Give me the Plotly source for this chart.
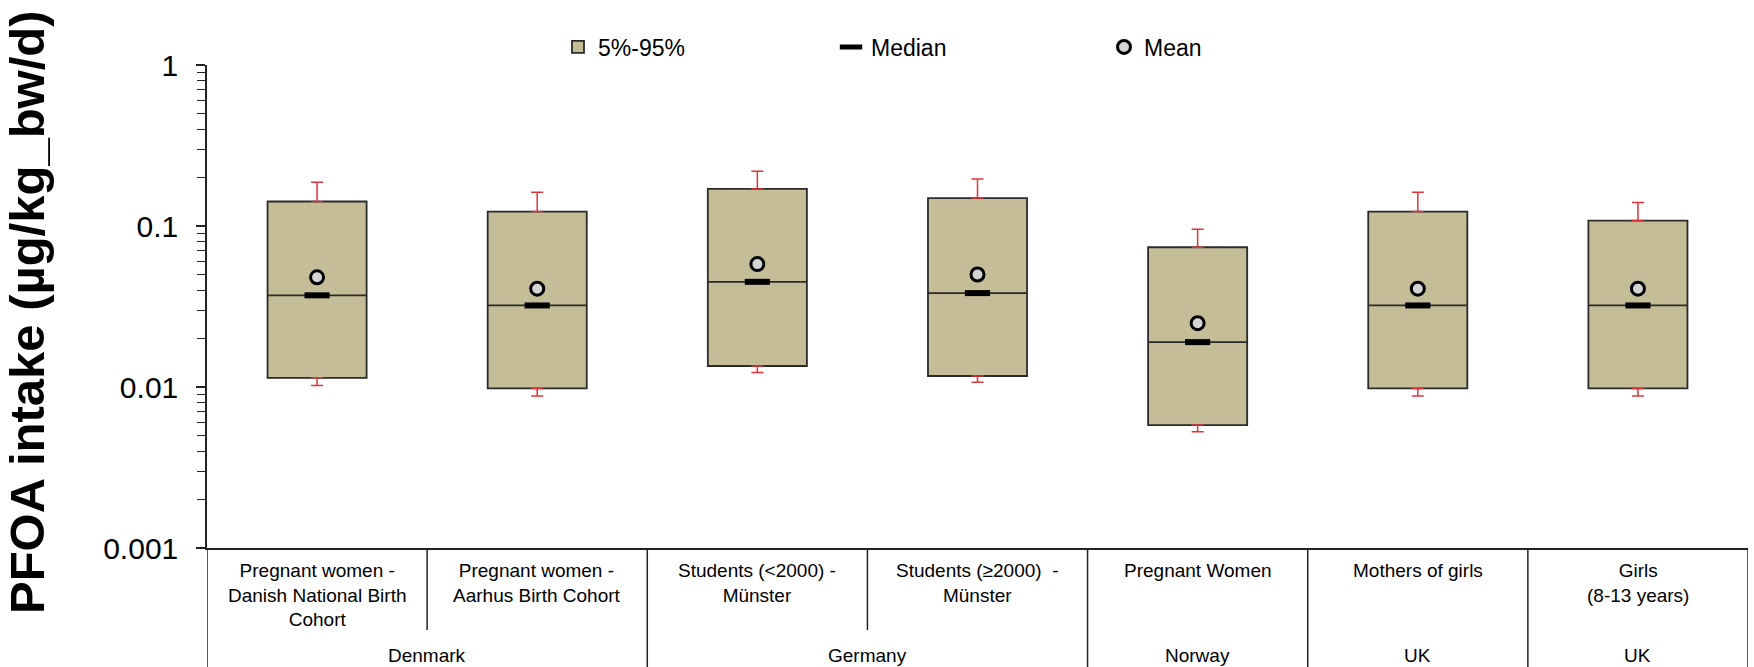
import plotly.graph_objects as go

# ---------------- data ----------------
subgroups = [
    "Pregnant women -<br>Danish National Birth<br>Cohort",
    "Pregnant women -<br>Aarhus Birth Cohort",
    "Students (<2000) -<br>Münster",
    "Students (≥2000)  -<br>Münster",
    "Pregnant Women",
    "Mothers of girls",
    "Girls<br>(8-13 years)",
]
countries = ["Denmark", "Germany", "Norway", "UK", "UK"]
country_sizes = [2, 2, 1, 1, 1]

p5 = [0.0114, 0.0098, 0.0135, 0.0117, 0.0058, 0.0098, 0.0098]
p95 = [0.142, 0.123, 0.170, 0.149, 0.0738, 0.123, 0.108]
median = [0.0371, 0.0321, 0.045, 0.0383, 0.019, 0.0321, 0.0321]
mean = [0.048, 0.0408, 0.058, 0.050, 0.0249, 0.0408, 0.0408]
whisk_hi = [0.187, 0.162, 0.219, 0.196, 0.0953, 0.162, 0.140]
whisk_lo = [0.0102, 0.0088, 0.0123, 0.0107, 0.00527, 0.0088, 0.0088]

ytick_vals = [0.001, 0.01, 0.1, 1]
ytick_text = ["0.001", "0.01", "0.1", "1"]

# ---------------- figure ----------------
W, H = 1754, 667
ML, MR, MT, MB = 207, 6, 65, 119
PW, PH = W - ML - MR, H - MT - MB
FONT = "Liberation Sans, Arial, sans-serif"
BOXFILL = "#C5BD98"
RED = "#E0343C"

def py(px):  # pixel y -> paper y
    return (H - MB - px) / PH

def pxx(px):  # pixel x -> paper x
    return (px - ML) / PW

fig = go.Figure()

fig.add_trace(go.Box(
    x=subgroups, q1=p5, q3=p95, median=median,
    lowerfence=p5, upperfence=p95,
    name="5%-95%", fillcolor=BOXFILL,
    line=dict(color="#2b2b2b", width=1.8),
    width=0.45, whiskerwidth=0, boxpoints=False, showlegend=True,
))

# whiskers (red)
fig.add_trace(go.Scatter(
    x=subgroups, y=p95, mode="markers",
    marker=dict(color="rgba(0,0,0,0)", size=1),
    error_y=dict(type="data", symmetric=False,
                 array=[h - q for h, q in zip(whisk_hi, p95)],
                 arrayminus=[0] * len(p95),
                 color=RED, thickness=1.5, width=6),
    showlegend=False, hoverinfo="skip",
))
fig.add_trace(go.Scatter(
    x=subgroups, y=p5, mode="markers",
    marker=dict(color="rgba(0,0,0,0)", size=1),
    error_y=dict(type="data", symmetric=False,
                 array=[0] * len(p5),
                 arrayminus=[q - l for q, l in zip(p5, whisk_lo)],
                 color=RED, thickness=1.5, width=6),
    showlegend=False, hoverinfo="skip",
))

fig.add_trace(go.Scatter(
    x=subgroups, y=median, mode="markers", name="Median",
    marker=dict(symbol="line-ew", size=18, color="black",
                line=dict(color="black", width=6)),
))
fig.add_trace(go.Scatter(
    x=subgroups, y=mean, mode="markers", name="Mean",
    marker=dict(symbol="circle", size=13, color="#d4d4d4",
                line=dict(color="black", width=3)),
))

# ---------------- category table ----------------
shapes = []
line_style = dict(color="#222", width=1.5)
y_bottom = py(H)
y_short = py(630)
group_edges = [0]
for s in country_sizes:
    group_edges.append(group_edges[-1] + s)
for k in range(len(subgroups) + 1):
    y1 = y_bottom if k in group_edges else y_short
    shapes.append(dict(type="line", xref="x", yref="paper",
                       x0=k - 0.5, x1=k - 0.5, y0=0, y1=y1,
                       line=line_style, layer="above"))

annotations = []
for i, lab in enumerate(subgroups):
    annotations.append(dict(xref="x", yref="paper", x=i, y=py(558),
                            text=lab, showarrow=False, yanchor="top",
                            xanchor="center", align="center",
                            font=dict(family=FONT, size=19, color="black")))
for g, name in enumerate(countries):
    c = (group_edges[g] + group_edges[g + 1] - 1) / 2
    annotations.append(dict(xref="x", yref="paper", x=c, y=py(655),
                            text=name, showarrow=False, yanchor="middle",
                            xanchor="center",
                            font=dict(family=FONT, size=19, color="black")))

# y-axis title
annotations.append(dict(xref="paper", yref="paper", x=pxx(27), y=py(312),
                        text="<b>PFOA intake (µg/kg_bw/d)</b>", textangle=-90,
                        showarrow=False, xanchor="center", yanchor="middle",
                        font=dict(family=FONT, size=49, color="black")))

minor_vals = [m * 10 ** e for e in (-3, -2, -1) for m in range(2, 10)]

fig.update_layout(
    width=W, height=H,
    margin=dict(l=ML, r=MR, t=MT, b=MB, pad=0),
    paper_bgcolor="white", plot_bgcolor="white",
    font=dict(family=FONT, color="black"),
    shapes=shapes, annotations=annotations,
    legend=dict(orientation="h", x=pxx(558), y=py(47), xanchor="left",
                yanchor="middle", font=dict(family=FONT, size=23),
                entrywidth=228, entrywidthmode="pixels",
                bgcolor="rgba(0,0,0,0)", itemwidth=30),
    xaxis=dict(type="category", range=[-0.5, len(subgroups) - 0.5],
               showticklabels=False, ticks="", showgrid=False,
               showline=True, linecolor="#222", linewidth=1.5,
               zeroline=False, fixedrange=True),
    yaxis=dict(type="log", range=[-3, 0], tickvals=ytick_vals,
               ticktext=ytick_text, ticks="outside", ticklen=9,
               tickwidth=1.5, tickcolor="#222", ticklabelstandoff=12,
               tickfont=dict(family=FONT, size=30, color="black"),
               showgrid=False, showline=True, linecolor="#222",
               linewidth=1.5, zeroline=False,
               minor=dict(tickvals=minor_vals, ticks="outside", ticklen=8,
                          tickwidth=1.2, tickcolor="#222", showgrid=False)),
    yaxis2=dict(type="log", range=[-3, 0], overlaying="y", side="left",
                tickvals=ytick_vals, ticks="inside", ticklen=10,
                tickwidth=1.5, tickcolor="#222", showticklabels=False,
                showgrid=False, showline=False, zeroline=False),
)

fig.write_html("out.html")
